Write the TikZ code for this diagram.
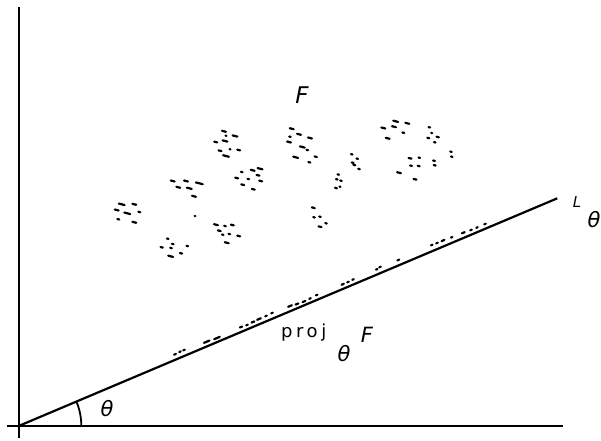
\documentclass[tikz,border=0pt]{standalone}
\usepackage{fontspec}
\setmainfont{DejaVu Sans}
\newfontfamily\projfont[LetterSpace=20]{DejaVu Sans}
\begin{document}
\begin{tikzpicture}[x=1pt,y=-1pt,
  ax/.style={line width=2.2pt},
  spk/.style={line width=2.2pt,line cap=round},
  lbl/.style={inner sep=0pt,outer sep=0pt}]
\useasboundingbox (0,0) rectangle (601,440);
% axes and line
\coordinate (O) at (19.3,425.7);
\coordinate (ytop) at (19.3,7);
\coordinate (ybot) at (19.3,438);
\coordinate (xl) at (6.7,425.7);
\coordinate (xr) at (563,425.7);
\coordinate (Lend) at (557.3,198.3);
\draw[ax] (ybot) -- (ytop);
\draw[ax] (xl) -- (xr);
\draw[ax] (O) -- (Lend);
\draw[line width=1.8pt] ([shift={(0:62)}]O) arc[start angle=0,end angle=-22.9,radius=62];
% the set F
\foreach \x/\y/\l in {
 121.7/204.3/3, 134.3/204.3/2, 116.7/210/2, 127.3/213.3/3, 139.3/212/1, 118.3/219.3/1, 134.3/222.3/2,
 172.7/181/2, 186/181/2, 199.3/183.3/3.5, 178.3/187.3/2, 189.3/188.3/2.5, 194/196.3/2, 195/216/0.3,
 224/131.3/2, 235/136/2.5, 226/135.7/0.5, 215.7/142/1.5, 225/141/2.5, 220/150.7/1.5, 230/149.3/0.5, 238.7/150/1.5, 226/156/3,
 241.7/172/0.8, 252.7/170.3/2, 260/168.7/2.5, 236.7/178/1.5, 248.3/179/0.8, 258/175.3/1.5, 260.7/181/1.5, 242.7/184.7/1.5, 253.3/189.3/1.5,
 167.7/238.7/0.8, 172.7/244/0.8, 161.7/247.3/1.2, 171/248/0.8, 187.3/246/0.8, 170.7/256.3/2.5, 181/253.3/1.2,
 216/224.7/2, 225/226/0.8, 232.3/225/1.5, 219.3/230.7/1.5, 222.7/234.7/0.8, 229.3/234/0.8, 238.7/236/1.5, 226.7/242.7/2,
 291.7/128.7/2, 299/134.3/2, 290/136.7/0.8, 289/142/2, 310/138/2, 302.3/147/2.5, 307.3/150/0.8, 295.7/157.3/2.5, 315.7/156.7/1.2, 309.3/162.3/1,
 313.3/207.7/1.5, 314/217.3/0.8, 320/216.7/0.8, 320/226.7/1.5, 326/223.3/0.8,
 338.3/174.5/0.8, 336.7/179.3/0.8, 341/180.7/0.8, 336/188/1, 340/186.7/0.5,
 351.7/154.3/0.8, 357.3/158.7/0.8, 352.7/162.7/1, 354.3/165/1, 359/169/0.8,
 383.3/128/2, 395.7/121.3/2.5, 407.3/123.3/2, 394/126.7/2, 403.3/132.7/1, 387.7/138.3/2,
 429.3/127.3/0.8, 431.7/133/0.5, 428.3/138/1, 437.7/137/1.2, 434.7/142.3/0.8,
 410/158.3/1.5, 419.3/157.7/0.8, 411/165.7/1, 418.7/166/1, 434/160.7/1, 434.7/165.3/1, 399/172.7/2, 415/179.3/1.5,
 451/151.7/0.8, 451.7/156.7/0.8}
  \draw[spk] ({\x-0.97*\l},{\y-0.25*\l}) -- ({\x+0.97*\l},{\y+0.25*\l});
% projection of F
\foreach \x/\y/\l in {
 175/354.3/1, 180/351.7/0.8, 184/350/0.8,
 206.7/341.7/3, 217/338/3,
 241/327/1.2, 247/325/0.8, 253/322/1.5, 259/319/2, 266/316/0.8, 272/313/0.8,
 290/306/2, 297/304/1.5, 304/301.5/1.5, 310/298.5/0.8, 316.7/295/0.8,
 342.7/284.3/1.2, 348/282/0.8, 353/279.5/0.8,
 376.7/269.3/0.8, 380/267/0.8, 398.3/260/1,
 431.7/245/0.8, 437/243/0.8, 443/240.5/1.5, 451.7/237.3/0.8,
 463.3/232.7/1.5, 471/230/0.8, 477/227.5/0.8, 485/224/0.8}
  \draw[spk] ({\x-0.921*\l},{\y+0.389*\l}) -- ({\x+0.921*\l},{\y-0.389*\l});
% labels
\node[lbl,font=\fontsize{23}{23}\selectfont\itshape] (Flab) at (302,95) {F};
\node[lbl,font=\fontsize{21}{21}\selectfont\itshape] (thlab) at (107,409) {θ};
\node[lbl,font=\fontsize{15}{15}\selectfont\itshape] (Llab) at (577,202) {L};
\node[lbl,font=\fontsize{21}{21}\selectfont\itshape] (Lsub) at (594,220) {θ};
\node[lbl,anchor=base west,font=\projfont\fontsize{18}{18}\selectfont] (proj) at (281,337) {proj};
\node[lbl,font=\fontsize{21}{21}\selectfont\itshape] (projsub) at (344,354) {θ};
\node[lbl,font=\fontsize{21}{21}\selectfont\itshape] (projF) at (367,335) {F};
\end{tikzpicture}
\end{document}
